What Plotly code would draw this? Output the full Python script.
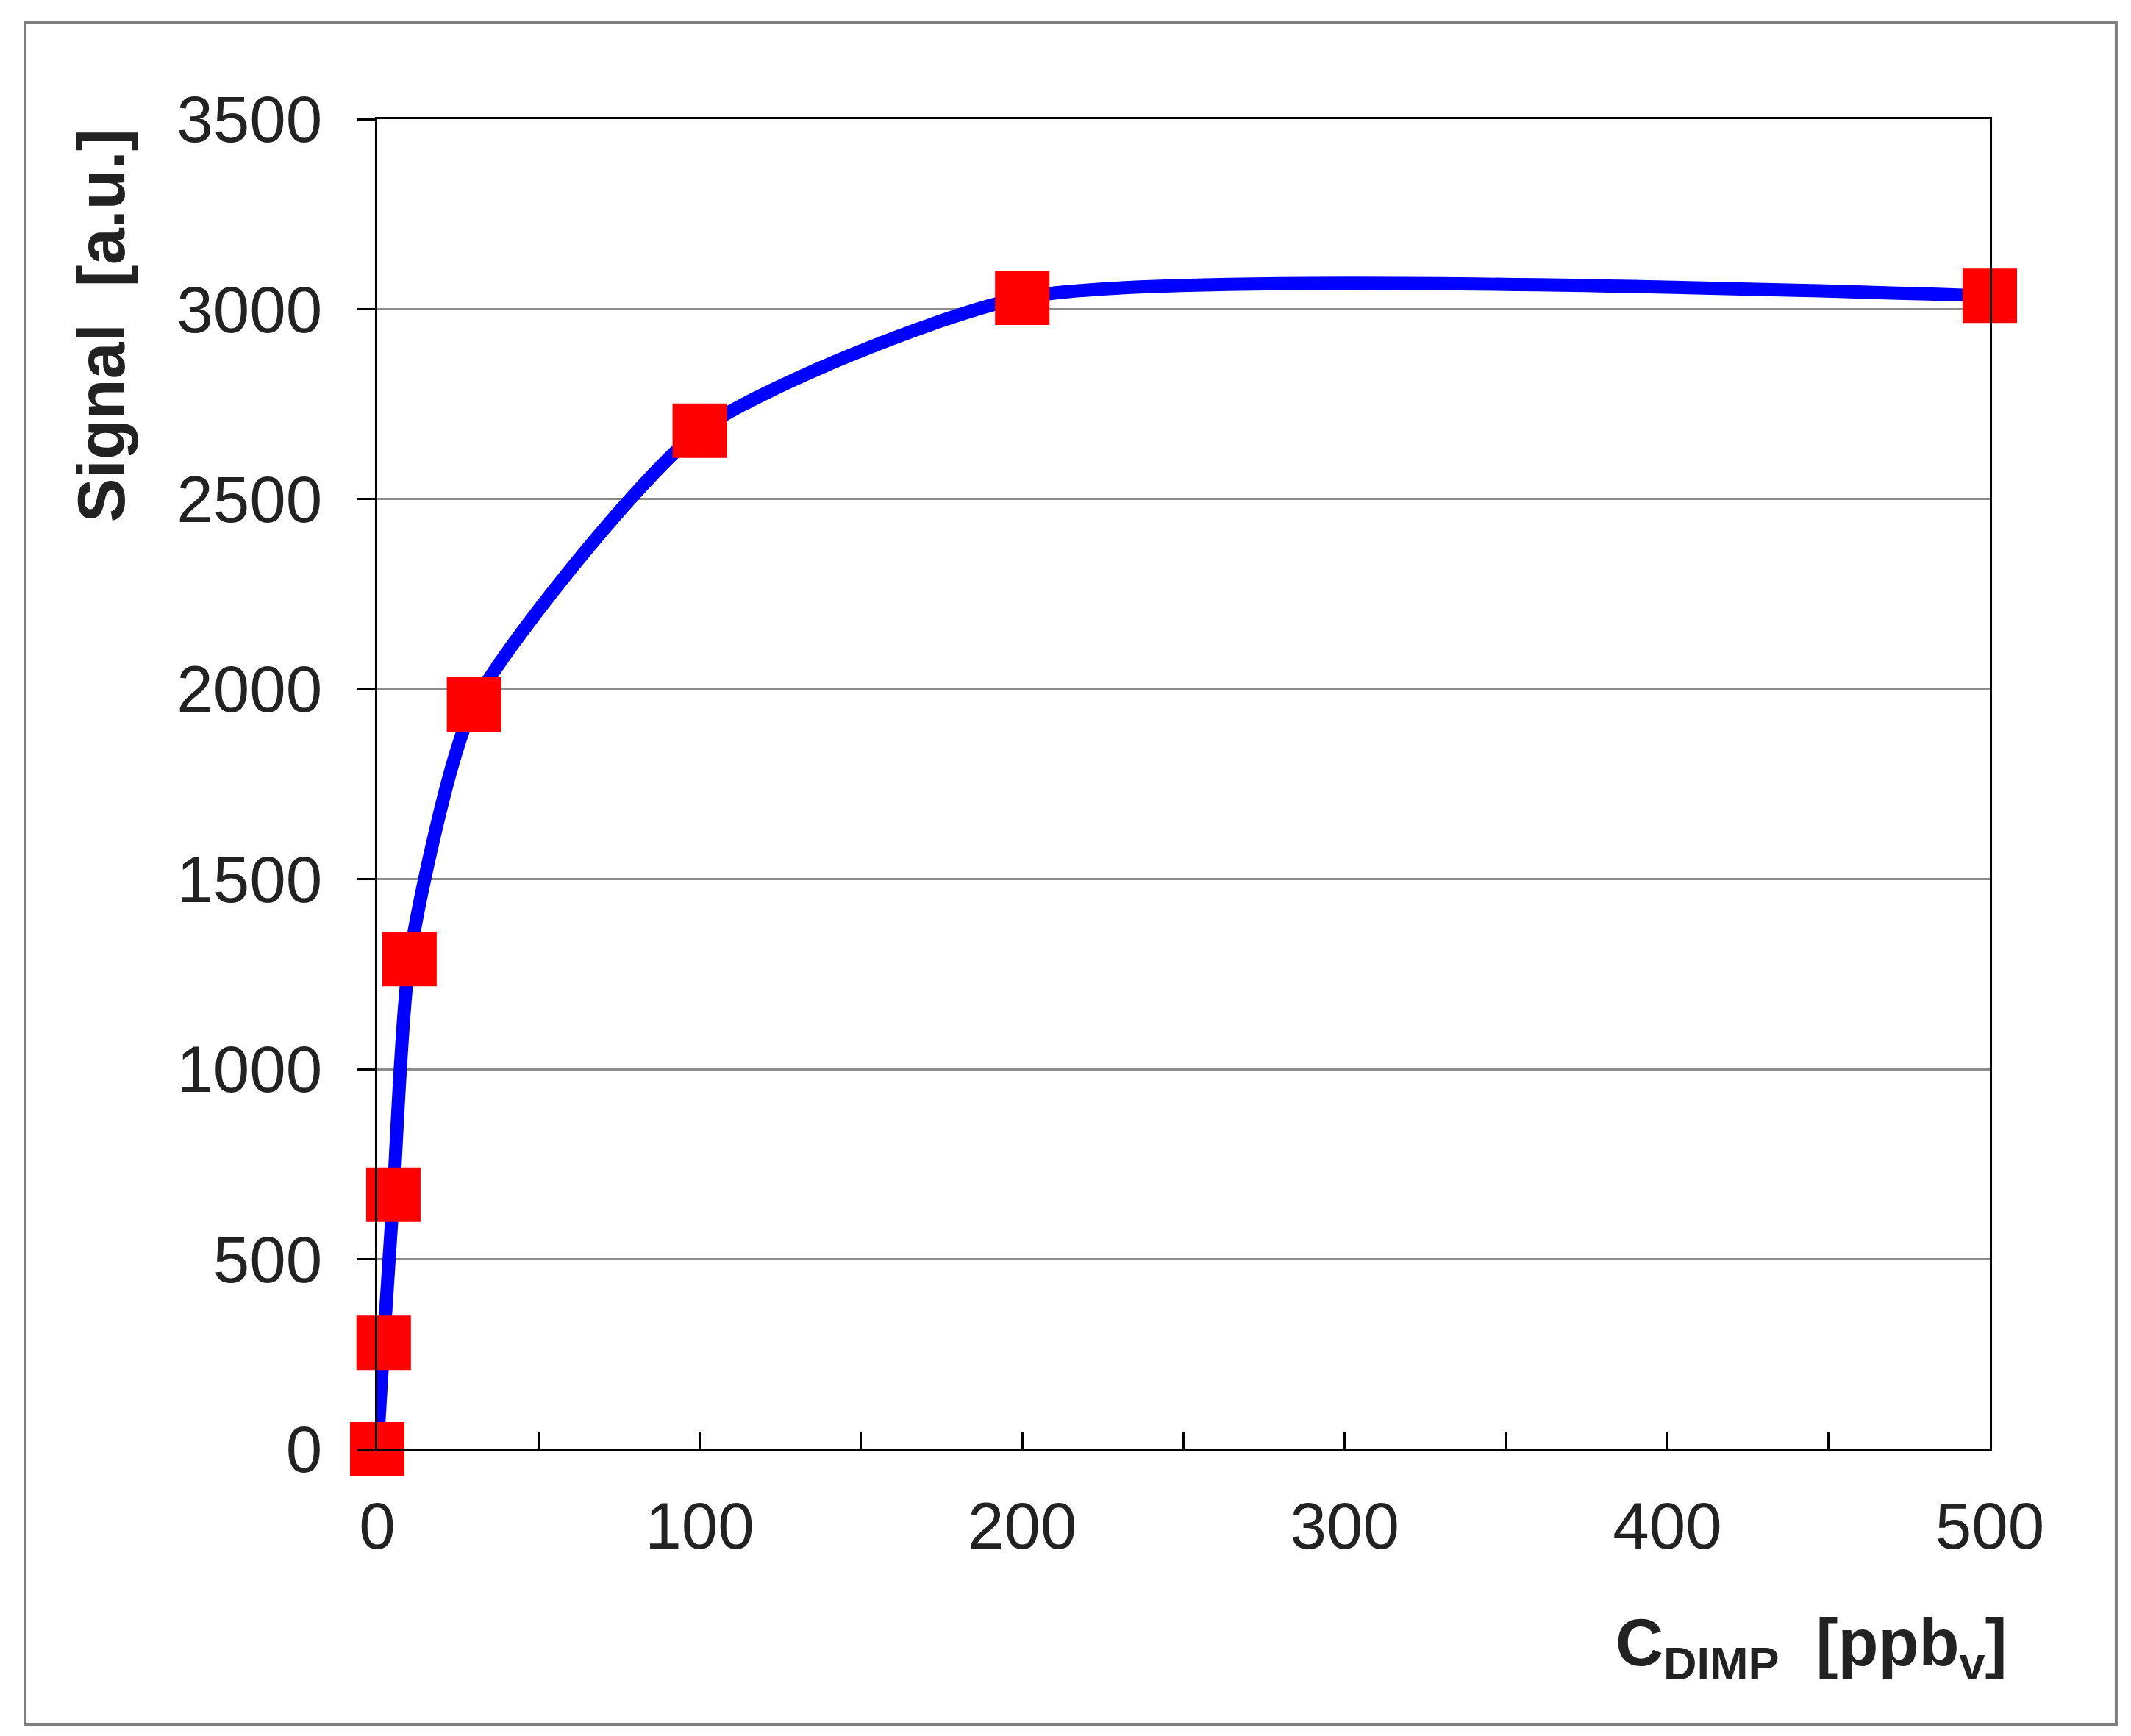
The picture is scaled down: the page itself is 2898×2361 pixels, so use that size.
"""Signal vs DIMP concentration, smoothed calibration curve."""

import plotly.graph_objects as go

conc_ppbv = [0, 2, 5, 10, 30, 100, 200, 500]
signal_au = [0, 280, 670, 1290, 1960, 2680, 3030, 3035]

x_ticks = [0, 100, 200, 300, 400, 500]
y_ticks = [0, 500, 1000, 1500, 2000, 2500, 3000, 3500]

FONT = "Liberation Sans, Arial, sans-serif"

fig = go.Figure()

# Smooth curve through the points (Excel style smoothing)
fig.add_trace(
    go.Scatter(
        x=conc_ppbv,
        y=signal_au,
        mode="lines",
        line=dict(color="#0000ff", width=18, shape="spline", smoothing=0.6),
        cliponaxis=False,
        hoverinfo="skip",
    )
)
fig.add_trace(
    go.Scatter(
        x=conc_ppbv,
        y=signal_au,
        mode="markers",
        marker=dict(symbol="square", size=74, color="#ff0000", line=dict(width=0)),
        cliponaxis=False,
    )
)

fig.update_layout(
    width=2898,
    height=2361,
    margin=dict(l=505, r=200, t=154, b=398),
    paper_bgcolor="white",
    plot_bgcolor="white",
    showlegend=False,
    font=dict(family=FONT, size=89, color="#222222"),
)

fig.update_xaxes(
    range=[0, 500],
    tickvals=x_ticks,
    ticks="inside",
    ticklen=24,
    tickwidth=3,
    tickcolor="black",
    minor=dict(dtick=50, ticks="inside", ticklen=24, tickwidth=3, tickcolor="black"),
    ticklabelstandoff=25,
    showgrid=False,
    zeroline=False,
    showline=True,
    linecolor="black",
    linewidth=3,
    mirror=True,
)
fig.update_yaxes(
    range=[0, 3500],
    tickvals=y_ticks,
    ticks="outside",
    ticklen=24,
    tickwidth=3,
    tickcolor="black",
    ticklabelstandoff=30,
    showgrid=True,
    gridcolor="#8c8c8c",
    gridwidth=3,
    zeroline=False,
    showline=True,
    linecolor="black",
    linewidth=3,
    mirror=True,
)

# Axis titles placed like the original
fig.add_annotation(
    text="<b>Signal  [a.u.]</b>",
    xref="paper", yref="paper",
    x=-0.171, y=0.845,
    xanchor="center", yanchor="middle",
    textangle=-90,
    showarrow=False,
    font=dict(family=FONT, size=90, color="#222222"),
)
fig.add_annotation(
    text="<b>C<sub>DIMP</sub>  [ppb<sub>v</sub>]</b>",
    xref="paper", yref="paper",
    x=0.889, y=-0.149,
    xanchor="center", yanchor="middle",
    showarrow=False,
    font=dict(family=FONT, size=90, color="#222222"),
)

# Outer frame around the whole picture
fig.add_shape(
    type="rect",
    xref="paper", yref="paper",
    x0=-0.2184, x1=1.0784, y0=-0.2067, y1=1.073,
    line=dict(color="#7f7f7f", width=4),
)

fig.write_html("out.html")
